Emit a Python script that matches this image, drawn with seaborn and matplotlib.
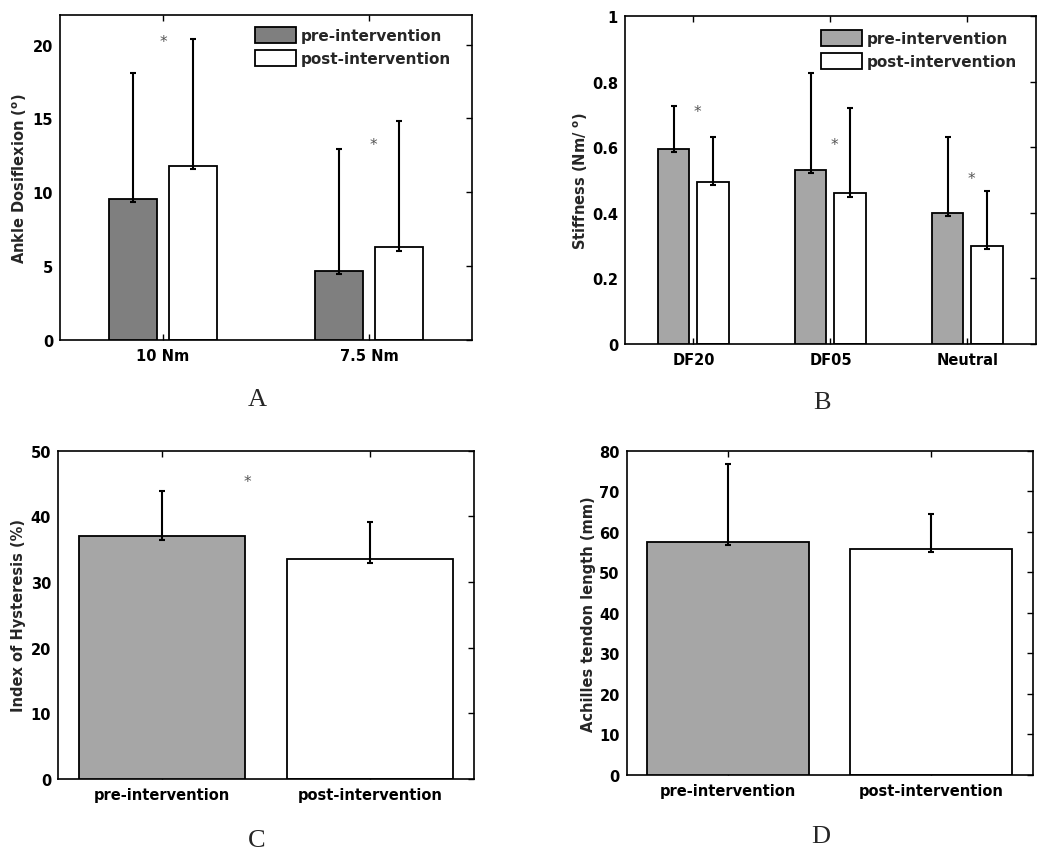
import numpy as np
import pandas as pd
import matplotlib
matplotlib.use("Agg")
import matplotlib.pyplot as plt
from matplotlib.ticker import FuncFormatter
import seaborn as sns

# Panel A: ankle dorsiflexion
cats_a = ["10 Nm", "7.5 Nm"]
pre_a = [9.55, 4.7]
post_a = [11.8, 6.3]
pre_err_a = [8.5, 8.25]
post_err_a = [8.6, 8.5]
stars_a_x = [0.0, 1.02]
stars_a_y = [20.2, 13.2]

# Panel B: stiffness
cats_b = ["DF20", "DF05", "Neutral"]
pre_b = [0.595, 0.532, 0.40]
post_b = [0.495, 0.46, 0.30]
pre_err_b = [0.13, 0.294, 0.232]
post_err_b = [0.137, 0.26, 0.166]
stars_b_x = [0.03, 1.03, 2.03]
stars_b_y = [0.708, 0.608, 0.506]

# Panel C: hysteresis
cats_c = ["pre-intervention", "post-intervention"]
vals_c = [37.0, 33.5]
err_c = [6.9, 5.6]
stars_c_x = [0.41]
stars_c_y = [45.3]

# Panel D: tendon length
cats_d = ["pre-intervention", "post-intervention"]
vals_d = [57.6, 55.8]
err_d = [19.1, 8.5]

phases = ["pre-intervention", "post-intervention"]

sns.set_style("ticks")
plt.rcParams["font.family"] = ["DejaVu Sans"]
plt.rcParams["font.weight"] = "bold"
plt.rcParams["mathtext.default"] = "regular"
plt.rcParams["xtick.direction"] = "in"
plt.rcParams["ytick.direction"] = "in"
plt.rcParams["axes.linewidth"] = 1.2
plt.rcParams["axes.edgecolor"] = "black"

fig = plt.figure(figsize=(10.5, 8.54), dpi=100)

ax_a = fig.add_axes([0.0571, 0.6007, 0.3924, 0.3806])
ax_b = fig.add_axes([0.5952, 0.5960, 0.3914, 0.3841])
ax_c = fig.add_axes([0.0552, 0.0867, 0.3962, 0.3844])
ax_d = fig.add_axes([0.5969, 0.0913, 0.3867, 0.3797])


def style_axes(ax, ymax, yticks, ylabel, label_x):
    ax.set_ylim(0, ymax)
    ax.set_yticks(yticks)
    ax.yaxis.set_major_formatter(FuncFormatter(lambda v, p: "%g" % v))
    ax.tick_params(axis="both", which="both", labelsize=10.5, length=4,
                   width=1, colors="black")
    ax.tick_params(axis="y", left=False, right=True, pad=5)
    ax.tick_params(axis="x", bottom=True, top=True, pad=6)
    for s in ax.spines.values():
        s.set_visible(True)
        s.set_linewidth(1.2)
    ax.set_xlabel("")
    ax.set_ylabel(ylabel, fontsize=10.5, fontweight="bold")
    ax.yaxis.set_label_coords(label_x, 0.5)
    for lab in ax.get_xticklabels() + ax.get_yticklabels():
        lab.set_fontweight("bold")


def add_errors(ax, bars, errs, ymax):
    xs = [b.get_x() + b.get_width() / 2 for b in bars]
    ys = [b.get_height() for b in bars]
    low = [0.011 * ymax] * len(bars)
    ax.errorbar(xs, ys, yerr=[low, errs], fmt="none", ecolor="black",
                elinewidth=1.5, capsize=2.5, capthick=1.5, zorder=4)


def grouped_panel(ax, cats, pre, post, pre_err, post_err, pre_color, ymax,
                  yticks, ylabel, label_x, stars_x, stars_y, leg_xy):
    df = pd.DataFrame({
        "cond": cats * 2,
        "phase": [phases[0]] * len(cats) + [phases[1]] * len(cats),
        "value": pre + post,
    })
    sns.barplot(data=df, x="cond", y="value", hue="phase", hue_order=phases,
                palette=[pre_color, "white"], edgecolor="black", linewidth=1.3,
                width=0.58, gap=0.2, errorbar=None, legend=False, ax=ax)
    bar_sets = list(ax.containers)
    for b in bar_sets[0]:
        b.set_zorder(3)
    add_errors(ax, list(bar_sets[0]), pre_err, ymax)
    add_errors(ax, list(bar_sets[1]), post_err, ymax)
    ax.set_xlim(-0.5, len(cats) - 0.5)
    for sx, sy in zip(stars_x, stars_y):
        ax.text(sx, sy, "*", ha="center", va="center", fontsize=11,
                color="#555555", fontweight="normal")
    ax.legend(handles=[bar_sets[0][0], bar_sets[1][0]], labels=phases,
              loc="upper left", bbox_to_anchor=leg_xy, frameon=False,
              borderpad=0, borderaxespad=0, handlelength=2.7,
              handleheight=1.2, handletextpad=0.3, labelspacing=0.45,
              prop={"size": 11, "weight": "bold"})
    style_axes(ax, ymax, yticks, ylabel, label_x)


def single_panel(ax, cats, vals, errs, ymax, yticks, ylabel, label_x):
    sns.barplot(x=cats, y=vals, hue=cats, palette=["#a6a6a6", "white"],
                edgecolor="black", linewidth=1.3, width=0.8, errorbar=None,
                legend=False, ax=ax)
    bars = sorted(ax.patches, key=lambda b: b.get_x())
    bars[0].set_zorder(3)
    add_errors(ax, bars, errs, ymax)
    ax.set_xlim(-0.5, len(cats) - 0.5)
    style_axes(ax, ymax, yticks, ylabel, label_x)


grouped_panel(ax_a, cats_a, pre_a, post_a, pre_err_a, post_err_a, "#7f7f7f",
              22, [0, 5, 10, 15, 20], r"Ankle Dosiflexion ($^o$)",
              -0.076, stars_a_x, stars_a_y, (0.473, 0.963))
grouped_panel(ax_b, cats_b, pre_b, post_b, pre_err_b, post_err_b, "#a6a6a6",
              1, [0, 0.2, 0.4, 0.6, 0.8, 1.0], r"Stiffness (Nm/ $^o$)",
              -0.084, stars_b_x, stars_b_y, (0.477, 0.957))

single_panel(ax_c, cats_c, vals_c, err_c, 50, [0, 10, 20, 30, 40, 50],
             "Index of Hysteresis (%)", -0.078)
for sx, sy in zip(stars_c_x, stars_c_y):
    ax_c.text(sx, sy, "*", ha="center", va="center", fontsize=11,
              color="#555555", fontweight="normal")
single_panel(ax_d, cats_d, vals_d, err_d, 80, list(range(0, 81, 10)),
             "Achilles tendon length (mm)", -0.075)

serif = ["Liberation Serif", "DejaVu Serif"]
for letter, px, py in [("A", 257, 400), ("B", 822, 403), ("C", 257, 841), ("D", 821, 837)]:
    fig.text(px / 1050, 1 - py / 854, letter, ha="center", va="center",
             fontsize=19, family=serif, fontweight="normal")

fig.savefig("out.png", dpi=100, facecolor="white")
